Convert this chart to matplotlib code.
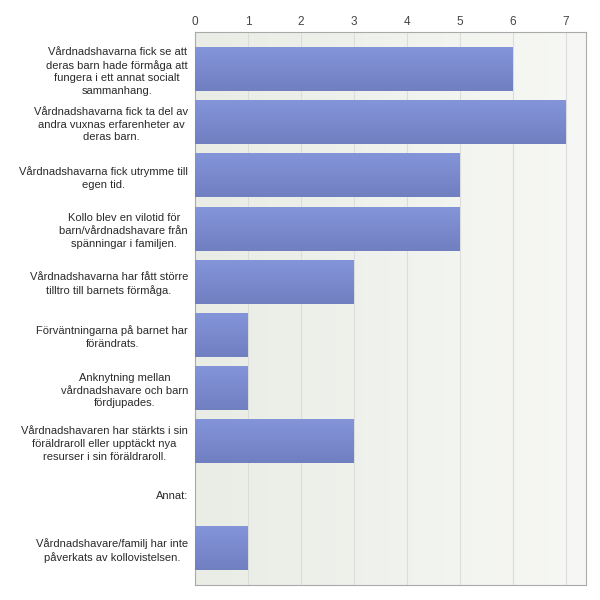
import matplotlib
matplotlib.use("Agg")
import matplotlib.pyplot as plt
import numpy as np
from matplotlib.colors import LinearSegmentedColormap

categories = [
    "Vårdnadshavarna fick se att\nderas barn hade förmåga att\nfungera i ett annat socialt\nsammanhang.",
    "Vårdnadshavarna fick ta del av\nandra vuxnas erfarenheter av\nderas barn.",
    "Vårdnadshavarna fick utrymme till\negen tid.",
    "Kollo blev en vilotid för\nbarn/vårdnadshavare från\nspänningar i familjen.",
    "Vårdnadshavarna har fått större\ntilltro till barnets förmåga.",
    "Förväntningarna på barnet har\nförändrats.",
    "Anknytning mellan\nvårdnadshavare och barn\nfördjupades.",
    "Vårdnadshavaren har stärkts i sin\nföräldraroll eller upptäckt nya\nresurser i sin föräldraroll.",
    "Annat:",
    "Vårdnadshavare/familj har inte\npåverkats av kollovistelsen.",
]
values = [6, 7, 5, 5, 3, 1, 1, 3, 0, 1]
xticks = [0, 1, 2, 3, 4, 5, 6, 7]

plt.rcParams['font.family'] = ['Liberation Sans', 'DejaVu Sans']

fig = plt.figure(figsize=(6, 6), dpi=100)
ax = fig.add_axes([0.325, 0.025, 0.651, 0.922])

n = len(categories)
y = np.arange(n)
xmax = 7.37
ylim = (n - 1 + 0.7, -0.7)

bg = np.linspace(0, 1, 256).reshape(1, -1)
bg_cmap = LinearSegmentedColormap.from_list("bg", ["#e9ede5", "#f7f8f5"])
ax.imshow(bg, cmap=bg_cmap, aspect='auto', extent=(0, xmax, ylim[0], ylim[1]), zorder=0)

ax.set_xticks(xticks)
ax.grid(axis='x', color='#dcdcdc', linewidth=0.8, zorder=1)
ax.set_axisbelow(True)

bars = ax.barh(y, values, height=0.83, color='#7b8bd1', edgecolor='none', zorder=2)

bar_cmap = LinearSegmentedColormap.from_list("bar", ["#8595da", "#6f7fc0"])
grad = np.linspace(0, 1, 64).reshape(-1, 1)
for b in bars:
    if b.get_width() <= 0:
        continue
    x0, y0 = b.get_x(), b.get_y()
    w, h = b.get_width(), b.get_height()
    im = ax.imshow(grad, cmap=bar_cmap, aspect='auto',
                   extent=(x0, x0 + w, y0 + h, y0), zorder=3)
    im.set_clip_path(b)

ax.set_xlim(0, xmax)
ax.set_ylim(*ylim)

ax.xaxis.tick_top()
ax.tick_params(axis='x', length=0, pad=3, labelsize=8.5, labelcolor='#444444')
ax.set_yticks(y)
ax.set_yticklabels(categories, fontsize=8, color='#2a2a2a')
for lab in ax.get_yticklabels():
    lab.set_multialignment('center')
    lab.set_linespacing(1.35)
ax.tick_params(axis='y', length=0, pad=5)

for s in ax.spines.values():
    s.set_color('#aaaaaa')
    s.set_linewidth(0.8)

fig.savefig("out.png", dpi=100, facecolor='white')
